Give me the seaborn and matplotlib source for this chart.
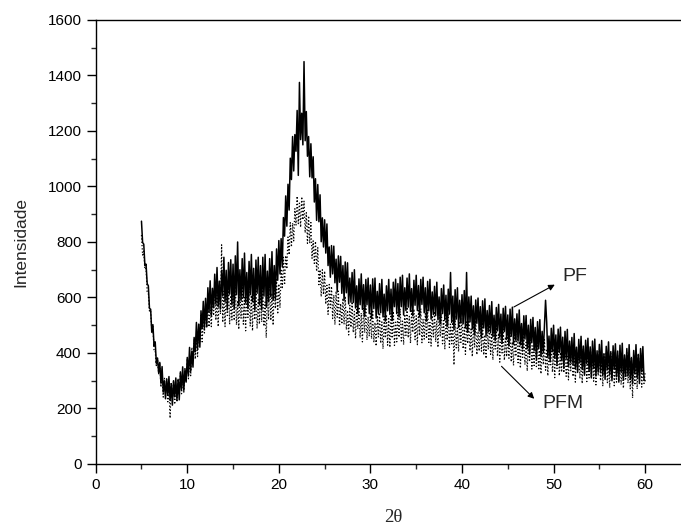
import numpy as np
import pandas as pd
import matplotlib
matplotlib.use("Agg")
import matplotlib.pyplot as plt
import seaborn as sns

# 2theta grid, one reading every 0.125 deg from 5 to 60
two_theta = np.linspace(5, 60, 441)

# PF intensities, one row per degree
pf = [
    875, 798, 792, 715, 720, 650, 642, 560,      # 5
    558, 475, 502, 425, 440, 363, 382, 329,      # 6
    366, 291, 351, 259, 299, 235, 307, 248,      # 7
    315, 229, 288, 212, 300, 242, 310, 230,      # 8
    305, 231, 332, 269, 350, 265, 340, 295,      # 9
    384, 319, 420, 334, 406, 349, 456, 404,      # 10
    510, 414, 504, 421, 552, 488, 586, 489,      # 11
    597, 494, 635, 546, 660, 535, 633, 563,      # 12
    684, 576, 708, 567, 659, 559, 698, 606,      # 13
    745, 584, 698, 555, 726, 612, 736, 574,      # 14
    720, 560, 750, 610, 800, 570, 700, 590,      # 15
    740, 600, 760, 580, 690, 560, 730, 610,      # 16
    755, 585, 705, 555, 735, 615, 745, 575,      # 17
    715, 555, 745, 605, 755, 565, 695, 585,      # 18
    740, 602, 765, 590, 715, 595, 775, 662,      # 19
    805, 685, 812, 710, 888, 821, 966, 857,      # 20
    1008, 915, 1102, 1025, 1180, 1056, 1187, 1127,  # 21
    1274, 1040, 1375, 1169, 1264, 1150, 1450, 1165,  # 22
    1270, 1109, 1180, 1035, 1154, 1031, 1107, 944,  # 23
    1028, 878, 1007, 873, 970, 801, 887, 782,    # 24
    880, 760, 865, 715, 782, 673, 787, 685,      # 25
    785, 653, 738, 620, 750, 655, 748, 615,      # 26
    715, 590, 728, 617, 725, 577, 670, 583,      # 27
    690, 582, 700, 562, 642, 542, 667, 574,      # 28
    685, 557, 646, 532, 665, 574, 670, 542,      # 29
    645, 524, 667, 560, 670, 526, 622, 540,      # 30
    650, 545, 665, 530, 612, 515, 642, 552,      # 31
    665, 539, 630, 517, 655, 567, 666, 542,      # 32
    650, 530, 673, 567, 680, 537, 635, 553,      # 33
    670, 565, 685, 550, 632, 535, 662, 572,      # 34
    680, 553, 643, 530, 665, 575, 673, 545,      # 35
    635, 515, 658, 552, 665, 522, 620, 538,      # 36
    640, 535, 655, 520, 602, 505, 632, 542,      # 37
    645, 518, 608, 495, 630, 540, 690, 510,      # 38
    605, 485, 628, 522, 635, 492, 590, 508,      # 39
    610, 505, 625, 490, 690, 475, 602, 512,      # 40
    605, 486, 570, 465, 591, 507, 598, 479,      # 41
    567, 455, 588, 490, 595, 462, 553, 476,      # 42
    571, 473, 585, 459, 536, 445, 564, 480,      # 43
    575, 456, 540, 435, 561, 477, 568, 449,      # 44
    537, 425, 558, 460, 565, 432, 523, 446,      # 45
    541, 443, 555, 429, 506, 415, 534, 450,      # 46
    535, 416, 500, 395, 521, 437, 528, 409,      # 47
    492, 380, 513, 415, 520, 387, 478, 401,      # 48
    496, 590, 510, 384, 461, 370, 489, 405,      # 49
    500, 381, 465, 360, 486, 402, 493, 374,      # 50
    457, 345, 478, 380, 485, 352, 443, 366,      # 51
    456, 358, 470, 344, 421, 330, 449, 365,      # 52
    460, 341, 425, 320, 446, 362, 453, 334,      # 53
    422, 310, 443, 345, 450, 317, 408, 331,      # 54
    431, 333, 445, 319, 396, 305, 424, 340,      # 55
    440, 321, 405, 300, 426, 342, 433, 314,      # 56
    407, 295, 428, 330, 435, 302, 393, 316,      # 57
    416, 318, 430, 304, 381, 290, 409, 325,      # 58
    430, 311, 395, 290, 416, 332, 423, 304,      # 59
    300,                                         # 60
]

# PFM intensities
pfm = [
    825, 753, 767, 701, 705, 621, 615, 551,      # 5
    554, 480, 495, 409, 409, 350, 381, 325,      # 6
    365, 277, 320, 241, 311, 252, 305, 224,      # 7
    282, 165, 295, 233, 300, 215, 273, 223,      # 8
    306, 249, 327, 253, 309, 259, 344, 299,      # 9
    380, 307, 380, 318, 420, 372, 450, 378,      # 10
    463, 387, 505, 441, 535, 440, 522, 472,      # 11
    568, 492, 595, 494, 568, 495, 602, 535,      # 12
    645, 518, 608, 495, 630, 540, 790, 510,      # 13
    623, 495, 647, 535, 655, 503, 607, 519,      # 14
    629, 517, 645, 501, 589, 485, 621, 525,      # 15
    640, 504, 600, 480, 624, 528, 632, 496,      # 16
    608, 480, 632, 520, 640, 488, 592, 504,      # 17
    624, 512, 640, 496, 584, 455, 616, 520,      # 18
    650, 517, 616, 500, 649, 560, 670, 540,      # 19
    649, 563, 703, 631, 745, 645, 751, 703,      # 20
    818, 754, 870, 782, 868, 804, 920, 861,      # 21
    965, 866, 940, 853, 963, 880, 947, 833,      # 22
    906, 795, 894, 795, 870, 741, 804, 723,      # 23
    802, 694, 780, 646, 700, 603, 700, 611,      # 24
    695, 576, 644, 539, 647, 563, 640, 524,      # 25
    609, 502, 622, 529, 623, 497, 578, 504,      # 26
    597, 503, 604, 484, 553, 465, 572, 492,      # 27
    585, 474, 550, 452, 568, 487, 566, 455,      # 28
    544, 440, 563, 473, 570, 447, 531, 460,      # 29
    542, 451, 555, 438, 510, 425, 535, 458,      # 30
    545, 435, 512, 415, 532, 454, 538, 428,      # 31
    524, 420, 543, 453, 550, 427, 511, 440,      # 32
    547, 456, 560, 443, 515, 430, 540, 463,      # 33
    565, 455, 532, 435, 552, 474, 558, 448,      # 34
    534, 430, 553, 463, 560, 437, 521, 450,      # 35
    542, 451, 555, 438, 510, 425, 535, 458,      # 36
    550, 440, 517, 420, 537, 459, 543, 433,      # 37
    517, 413, 536, 446, 543, 420, 504, 433,      # 38
    522, 357, 535, 418, 490, 405, 515, 438,      # 39
    525, 415, 492, 395, 512, 434, 518, 408,      # 40
    491, 387, 510, 420, 517, 394, 478, 407,      # 41
    497, 406, 510, 393, 465, 380, 490, 413,      # 42
    505, 395, 472, 375, 492, 414, 498, 388,      # 43
    471, 367, 490, 400, 497, 374, 458, 387,      # 44
    472, 381, 485, 368, 440, 355, 465, 388,      # 45
    475, 365, 442, 345, 462, 384, 468, 358,      # 46
    439, 335, 458, 368, 465, 342, 426, 355,      # 47
    442, 351, 455, 338, 410, 325, 435, 358,      # 48
    448, 338, 415, 318, 435, 357, 441, 331,      # 49
    415, 311, 434, 344, 441, 318, 402, 331,      # 50
    420, 329, 433, 316, 388, 303, 413, 336,      # 51
    425, 315, 392, 295, 412, 334, 418, 308,      # 52
    394, 290, 413, 323, 420, 297, 381, 310,      # 53
    402, 311, 415, 298, 370, 285, 395, 318,      # 54
    410, 300, 377, 280, 397, 319, 403, 293,      # 55
    379, 275, 398, 308, 405, 282, 366, 295,      # 56
    390, 299, 403, 286, 358, 273, 383, 306,      # 57
    401, 291, 368, 271, 388, 238, 394, 284,      # 58
    374, 270, 393, 303, 400, 277, 361, 290,      # 59
    330,                                         # 60
]

df = pd.DataFrame({"two_theta": two_theta, "PF": pf, "PFM": pfm})

sns.set_style("ticks")
plt.rcParams["font.family"] = ["Liberation Sans", "DejaVu Sans"]

fig = plt.figure(figsize=(6.81, 5.26), dpi=100)
# axes run past the right edge, like the cropped original
ax = fig.add_axes([0.1405, 0.1179, 0.8741, 0.8441])

sns.lineplot(data=df, x="two_theta", y="PFM", ax=ax, color="black",
             linewidth=0.9, linestyle=":", sort=False)
sns.lineplot(data=df, x="two_theta", y="PF", ax=ax, color="black",
             linewidth=1.1, sort=False)

ax.set_xlim(0, 65)
ax.set_ylim(0, 1600)
ax.set_xticks(np.arange(0, 61, 10))
ax.set_xticks(np.arange(5, 66, 10), minor=True)
ax.set_yticks(np.arange(0, 1601, 200))
ax.set_yticks(np.arange(100, 1600, 200), minor=True)

for s in ax.spines.values():
    s.set_linewidth(1.0)
    s.set_color("black")
ax.tick_params(which="major", direction="out", length=6.2, width=1.0,
               labelsize=11, pad=4, colors="black")
ax.tick_params(which="minor", direction="out", length=3.4, width=1.0)
ax.tick_params(top=False, right=False, which="both")

ax.set_ylabel("Intensidade", fontsize=12.5)
ax.yaxis.set_label_coords(-0.113, 0.5)
ax.set_xlabel("2\u03b8", fontsize=13.5, family=["Liberation Serif", "DejaVu Serif"])
ax.xaxis.set_label_coords(0.5, -0.101)

# labels with arrows
arrow = dict(arrowstyle="-|>", color="black", lw=0.8, mutation_scale=9)
ax.annotate("", xy=(50.4, 651), xytext=(45.4, 561), arrowprops=arrow)
ax.text(51.0, 674, "PF", fontsize=14, ha="left", va="center")
ax.annotate("", xy=(48.1, 228), xytext=(44.1, 359), arrowprops=arrow)
ax.text(48.8, 218, "PFM", fontsize=14, ha="left", va="center")

fig.savefig("out.png", dpi=100)
